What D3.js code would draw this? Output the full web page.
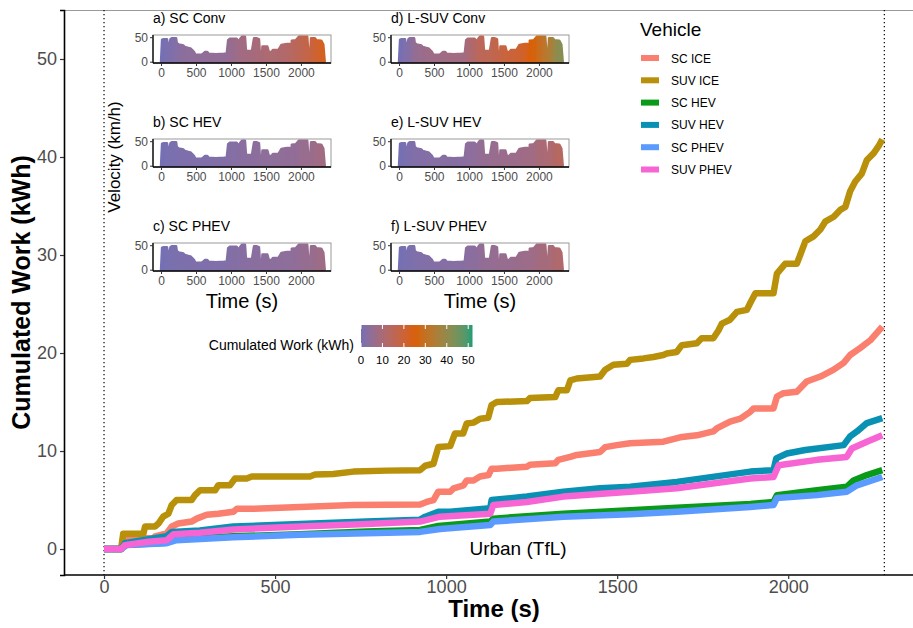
<!DOCTYPE html>
<html><head><meta charset="utf-8">
<script src="https://cdn.jsdelivr.net/npm/d3@7"></script>
<style>body{margin:0;background:#fff}svg{display:block;font-family:"Liberation Sans",Arial,sans-serif}</style>
</head><body><svg id="c" width="913" height="628"></svg>
<script>
// ---------- DATA ----------
const vehicles = ["SC ICE","SUV ICE","SC HEV","SUV HEV","SC PHEV","SUV PHEV"];
const vehicleColors = ["#fa7f6e","#b8900a","#0a9a1a","#0891b2","#5b9bff","#f764d4"];
const xTicks = [0,500,1000,1500,2000];
const yTicks = [0,10,20,30,40,50];
const cycleEnd = 2281;

const scIce = [[0,0],[50,0],[56,1.1],[145,1.1],[149,1.3],[183,1.6],[198,2.3],[217,2.6],[256,2.8],[271,3.1],[300,3.5],[334,3.6],[378,3.8],[388,4.1],[430,4.1],[573,4.3],[729,4.5],[924,4.55],[943,4.8],[963,5.0],[977,5.85],[1012,5.85],[1022,6.2],[1051,6.5],[1060,7.0],[1080,7.0],[1099,7.4],[1124,7.55],[1133,8.2],[1148,8.2],[1236,8.4],[1245,8.6],[1319,8.75],[1328,9.1],[1363,9.4],[1382,9.6],[1450,9.9],[1465,10.4],[1499,10.6],[1538,10.8],[1635,10.95],[1684,11.4],[1733,11.6],[1781,12.0],[1791,12.3],[1830,13.0],[1860,13.3],[1889,14.0],[1899,14.35],[1957,14.35],[1967,15.55],[1986,15.9],[2025,16.05],[2035,16.4],[2054,17.1],[2094,17.6],[2133,18.3],[2162,19.0],[2181,19.8],[2210,20.5],[2240,21.3],[2275,22.7]];
const suvIce = [[0,0],[50,0],[56,1.55],[115,1.55],[120,2.3],[149,2.3],[159,2.6],[173,3.3],[188,3.6],[198,4.5],[212,5.0],[256,5.0],[266,5.5],[281,6.0],[325,6.0],[334,6.5],[368,6.5],[383,7.2],[417,7.2],[432,7.4],[602,7.4],[617,7.6],[670,7.65],[729,7.9],[826,8.0],[924,8.05],[939,8.5],[963,8.7],[977,10.4],[1012,10.5],[1026,11.8],[1050,11.8],[1060,12.8],[1080,12.9],[1100,13.3],[1123,13.4],[1133,14.7],[1148,15.0],[1236,15.1],[1245,15.4],[1319,15.5],[1328,16.2],[1353,16.2],[1363,17.2],[1382,17.4],[1450,17.6],[1465,18.3],[1489,18.8],[1528,18.9],[1538,19.3],[1577,19.45],[1606,19.6],[1635,19.8],[1645,19.95],[1674,20.1],[1689,20.8],[1733,21.0],[1747,21.5],[1781,21.5],[1796,22.3],[1806,23.0],[1830,23.4],[1850,24.2],[1879,24.4],[1889,25.1],[1904,26.1],[1957,26.1],[1967,28.1],[1991,29.1],[2025,29.1],[2035,30.0],[2050,31.4],[2074,31.9],[2094,32.6],[2108,33.4],[2133,33.9],[2152,34.6],[2167,34.9],[2181,36.5],[2196,37.5],[2215,38.3],[2230,39.7],[2250,40.4],[2264,41.1],[2275,41.8]];
const scHev = [[0,0],[50,0],[61,0.4],[183,0.65],[212,1.0],[378,1.3],[573,1.5],[768,1.8],[924,1.95],[977,2.35],[1129,2.8],[1138,3.1],[1343,3.6],[1538,3.95],[1674,4.2],[1889,4.6],[1957,4.8],[1967,5.5],[2084,6.0],[2171,6.35],[2191,7.0],[2230,7.55],[2275,8.05]];
const suvHev = [[0,0],[50,0],[61,0.6],[183,1.3],[198,1.75],[280,1.9],[378,2.3],[573,2.55],[768,2.8],[924,3.0],[939,3.3],[977,3.8],[1012,3.8],[1129,4.15],[1133,5.0],[1236,5.35],[1343,5.85],[1450,6.2],[1538,6.35],[1674,6.85],[1889,7.9],[1957,8.05],[1965,9.25],[1996,9.75],[2050,10.1],[2162,10.6],[2181,11.5],[2201,12.0],[2230,12.85],[2275,13.35]];
const scPhev = [[0,0],[50,0],[66,0.4],[183,0.6],[212,0.9],[378,1.2],[573,1.45],[768,1.6],[924,1.75],[982,2.05],[1129,2.45],[1138,2.8],[1343,3.3],[1538,3.55],[1674,3.8],[1889,4.3],[1957,4.5],[1967,5.2],[2084,5.5],[2171,5.85],[2201,6.5],[2275,7.35]];
const suvPhev = [[0,0],[50,0],[61,0.4],[130,0.75],[183,0.9],[203,1.5],[280,1.65],[378,2.0],[573,2.3],[768,2.55],[924,2.8],[982,3.3],[1129,3.6],[1138,4.5],[1236,4.8],[1343,5.35],[1538,5.85],[1674,6.2],[1889,7.2],[1957,7.35],[1972,8.55],[2084,9.1],[2171,9.4],[2186,10.25],[2230,10.95],[2275,11.6]];
const seriesData = [scIce, suvIce, scHev, suvHev, scPhev, suvPhev];

// TfL urban velocity profile (km/h) vs time (s)
const velocity = [[0,0],[15,45],[40,46],[85,46],[100,31],[118,30],[135,46],[160,48],[215,48],[225,38],[250,35],[320,33],[340,30],[390,28],[420,27],[470,20],[490,14],[580,14],[610,17],[630,20],[660,20],[680,16],[780,15],[900,16],[940,17],[960,44],[985,47],[1080,47],[1110,41],[1140,48],[1160,51],[1200,51],[1215,20],[1240,22],[1300,22],[1330,48],[1360,48],[1400,46],[1420,0],[1440,0],[1450,31],[1520,31],[1540,20],[1580,20],[1600,24],[1680,24],[1720,34],[1800,36],[1840,36],[1845,0],[1860,0],[1870,43],[1930,44],[1970,51],[2090,51],[2110,10],[2130,10],[2145,48],[2200,48],[2220,44],[2290,43],[2320,35],[2340,0]];
const insetTitles = ["a) SC Conv","b) SC HEV","c) SC PHEV","d) L-SUV Conv","e) L-SUV HEV","f) L-SUV PHEV"];
const insetSeries = [scIce, scHev, scPhev, suvIce, suvHev, suvPhev];
const insetXTicks = [0,500,1000,1500,2000];
const insetYTicks = [0,50];
const cbTicks = [0,10,20,30,40,50];
const cbStops = [0,25,52];
const cbColors = ["#7570b3","#d95f02","#1b9e77"];

// ---------- DRAW ----------
const svg = d3.select("#c");
const L=64, R=923, T=10, B=575;
const x = d3.scaleLinear().domain([-117,2394]).range([L,R]);
const y = d3.scaleLinear().domain([-2.65,55]).range([B,T]);
const grey="#4d4d4d";
const fmt=d3.format("d");

svg.append("line").attr("x1",L).attr("x2",913).attr("y1",T+0.5).attr("y2",T+0.5).attr("stroke","#999").attr("stroke-width",1.2);
[0,cycleEnd].forEach(t=>svg.append("line").attr("x1",x(t)).attr("x2",x(t)).attr("y1",T).attr("y2",B)
  .attr("stroke","#000").attr("stroke-width",1.2).attr("stroke-dasharray","1.2,2.8"));

const gx = svg.append("g").attr("transform",`translate(0,${B})`).call(d3.axisBottom(x).tickValues(xTicks).tickFormat(fmt).tickSize(4).tickPadding(1));
const gy = svg.append("g").attr("transform",`translate(${L},0)`).call(d3.axisLeft(y).tickValues(yTicks).tickFormat(fmt).tickSize(4).tickPadding(3));
[gx,gy].forEach(g=>{g.select(".domain").attr("stroke","#000").attr("stroke-width",1.6);
  g.selectAll(".tick line").attr("stroke","#333").attr("stroke-width",1.2);
  g.selectAll("text").attr("fill",grey).style("font-size","18px").style("font-family","'Liberation Sans',Arial,sans-serif");});
gx.select(".domain").attr("d",`M${L},0H913`);

svg.append("text").attr("x",494).attr("y",617).attr("text-anchor","middle").style("font-weight","bold").style("font-size","24px").text("Time (s)");
svg.append("text").attr("transform",`translate(30,${(T+B)/2}) rotate(-90)`).attr("text-anchor","middle").style("font-weight","bold").style("font-size","25px").text("Cumulated Work (kWh)");
svg.append("text").attr("x",x(1140)+24).attr("y",555).attr("text-anchor","middle").style("font-size","19px").text("Urban (TfL)");

const line = d3.line().x(d=>x(d[0])).y(d=>y(d[1]));
seriesData.forEach((s,i)=>svg.append("path").attr("d",line(s)).attr("fill","none")
  .attr("stroke",vehicleColors[i]).attr("stroke-width",6.5).attr("stroke-linejoin","round"));

svg.append("text").attr("x",640).attr("y",36).style("font-size","19px").text("Vehicle");
vehicles.forEach((v,i)=>{const yy=58+i*22.3;
  svg.append("rect").attr("x",641).attr("y",yy-3).attr("width",18).attr("height",6).attr("fill",vehicleColors[i]);
  svg.append("text").attr("x",671).attr("y",yy+4.5).style("font-size","12px").text(v);});

const cs = d3.scaleLinear().domain(cbStops).range(cbColors).interpolate(d3.interpolateLab);

const colX=[153,391], rowY=[35,139,243], bw=178, bh=28;
const defs = svg.append("defs");
insetTitles.forEach((title,i)=>{
  const col=Math.floor(i/3), row=i%3;
  const x0=colX[col], y0=rowY[row];
  const ix=d3.scaleLinear().domain([-115,2430]).range([x0,x0+bw]);
  const iy=d3.scaleLinear().domain([-2.7,54.5]).range([y0+bh,y0]);
  const s=insetSeries[i];
  const gid="g"+i;
  const gr=defs.append("linearGradient").attr("id",gid).attr("gradientUnits","userSpaceOnUse")
    .attr("x1",ix(0)).attr("x2",ix(2340)).attr("y1",0).attr("y2",0);
  s.forEach(p=>gr.append("stop").attr("offset",p[0]/2340).attr("stop-color",cs(p[1])));
  gr.append("stop").attr("offset",1).attr("stop-color",cs(s[s.length-1][1]));
  svg.append("rect").attr("x",x0).attr("y",y0).attr("width",bw).attr("height",bh).attr("fill","none").attr("stroke","#999").attr("stroke-width",1);
  const area=d3.area().x(d=>ix(d[0])).y0(iy(0)).y1(d=>iy(d[1]));
  svg.append("path").attr("d",area(velocity)).attr("fill",`url(#${gid})`).attr("stroke",`url(#${gid})`).attr("stroke-width",2.5).attr("stroke-linejoin","round");
  const ax=svg.append("g").attr("transform",`translate(0,${y0+bh})`).call(d3.axisBottom(ix).tickValues(insetXTicks).tickFormat(fmt).tickSize(3).tickPadding(2));
  const ay=svg.append("g").attr("transform",`translate(${x0},0)`).call(d3.axisLeft(iy).tickValues(insetYTicks).tickFormat(fmt).tickSize(3).tickPadding(2));
  [ax,ay].forEach(g=>{g.select(".domain").attr("stroke","#000").attr("stroke-width",1.3);
    g.selectAll(".tick line").attr("stroke","#333");
    g.selectAll("text").attr("fill",grey).style("font-size","12px").style("font-family","'Liberation Sans',Arial,sans-serif");});
  ax.select(".domain").attr("d",`M${x0},0H${x0+bw}`);
  ay.select(".domain").attr("d",`M0,${y0}V${y0+bh}`);
  svg.append("text").attr("x",x0).attr("y",y0-12).style("font-size","14px").text(title);
  if(row===2) svg.append("text").attr("x",x0+bw/2).attr("y",y0+bh+37).attr("text-anchor","middle").style("font-size","20px").text("Time (s)");
});
svg.append("text").attr("transform","translate(120,157) rotate(-90)").attr("text-anchor","middle").style("font-size","17px").text("Velocity (km/h)");

const cbx=d3.scaleLinear().domain([0,52]).range([361,472.5]);
const cg=defs.append("linearGradient").attr("id","cbg");
d3.range(0,53,2).forEach(v=>cg.append("stop").attr("offset",v/52).attr("stop-color",cs(v)));
svg.append("rect").attr("x",cbx(0)).attr("y",325).attr("width",cbx(52)-cbx(0)).attr("height",22).attr("fill","url(#cbg)");
cbTicks.forEach(t=>{
  svg.append("line").attr("x1",cbx(t)).attr("x2",cbx(t)).attr("y1",325).attr("y2",329).attr("stroke","#fff").attr("stroke-width",1);
  svg.append("line").attr("x1",cbx(t)).attr("x2",cbx(t)).attr("y1",343).attr("y2",347).attr("stroke","#fff").attr("stroke-width",1);
  svg.append("text").attr("x",cbx(t)).attr("y",364).attr("text-anchor","middle").style("font-size","11.5px").text(t);
});
svg.append("text").attr("x",354).attr("y",350).attr("text-anchor","end").style("font-size","14px").text("Cumulated Work (kWh)");
</script></body></html>
